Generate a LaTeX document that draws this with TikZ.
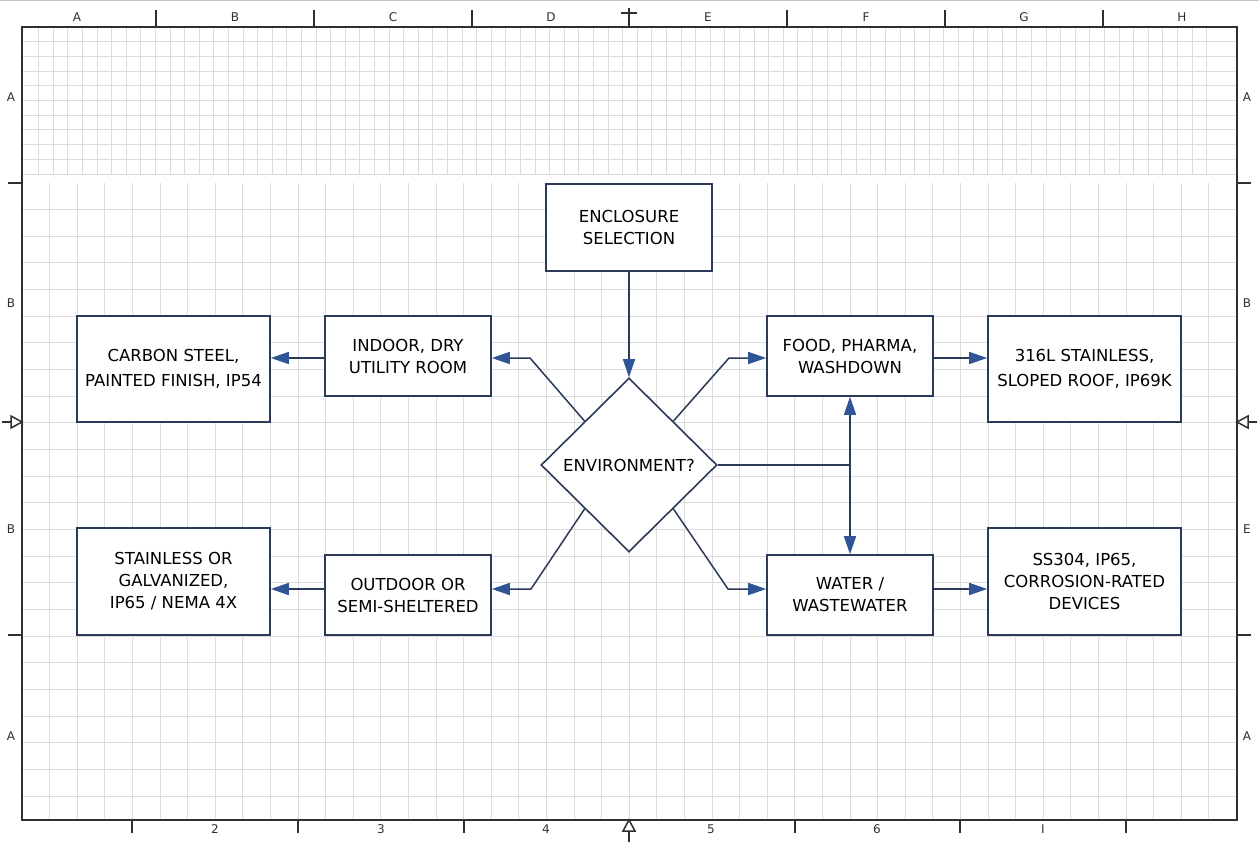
\documentclass[tikz,border=0pt]{standalone}
\usepackage{fontspec}
\setmainfont{DejaVu Sans}
\usetikzlibrary{shapes.geometric,arrows.meta}

\definecolor{boxline}{HTML}{2B3A58}
\definecolor{arrowblue}{HTML}{2F5597}
\definecolor{gridgray}{HTML}{DCDCDC}
\definecolor{framegray}{HTML}{303030}

\begin{document}
\begin{tikzpicture}[x=1pt,y=-1pt,
    box/.style ={rectangle, draw=boxline, line width=1.6pt, fill=white, align=center,
                 inner sep=0pt, text=black, font=\fontsize{16.5}{22}\selectfont},
    decision/.style ={diamond, draw=boxline, line width=1.6pt, fill=white, inner sep=0pt,
                 minimum width=176pt, minimum height=174pt, text=black,
                 font=\fontsize{16.5}{22}\selectfont},
    link/.style ={draw=boxline, line width=1.5pt,
                 -{Triangle[length=18pt,width=12pt,color=arrowblue]}},
    twoway/.style ={draw=boxline, line width=1.5pt,
                 {Triangle[length=18pt,width=12pt,color=arrowblue]}-{Triangle[length=18pt,width=12pt,color=arrowblue]}},
    ruler/.style ={text=framegray, inner sep=1pt, font=\fontsize{12}{14}\selectfont}]

   \useasboundingbox (0,0) rectangle (1259,845);
   \fill[white] (0,0) rectangle (1259,845);
   \draw[gray!45] (0,0.5) -- (1259,0.5);

   % sheet grid
   \foreach \k in {1,...,81} \draw[gridgray, line width=0.9pt] (24.1+14.6*\k,27) -- (24.1+14.6*\k,174);
   \foreach \k in {1,...,10} \draw[gridgray, line width=0.9pt] (22,27+14.7*\k) -- (1237,27+14.7*\k);
   \foreach \k in {1,...,43} \draw[gridgray, line width=0.9pt] (22+27.6*\k,183) -- (22+27.6*\k,820);
   \foreach \k in {1,...,23} \draw[gridgray, line width=0.9pt] (22,183+26.65*\k) -- (1237,183+26.65*\k);

   % frame and zone marks
   \draw[framegray, line width=2pt] (22,27) rectangle (1237,820);
   \foreach \x in {156,314,472,787,945,1103} \draw[framegray, line width=1.5pt] (\x,10) -- (\x,27);
   \foreach \x in {132,298,464,795,960,1126} \draw[framegray, line width=1.5pt] (\x,820) -- (\x,833);
   \foreach \y in {183,635} \draw[framegray, line width=1.5pt] (8,\y) -- (22,\y);
   \foreach \y in {183,635} \draw[framegray, line width=1.5pt] (1237,\y) -- (1251,\y);
   \draw[framegray, line width=1.5pt] (629,8) -- (629,27);
   \draw[framegray, line width=1.5pt] (621,13) -- (637,13);
   \draw[framegray, line width=1.5pt] (629,820) -- (623,831) -- (635,831) -- cycle;
   \draw[framegray, line width=1.5pt] (629,831) -- (629,842);
   \draw[framegray, line width=1.5pt] (22,422) -- (11,416) -- (11,428) -- cycle;
   \draw[framegray, line width=1.5pt] (2,422) -- (11,422);
   \draw[framegray, line width=1.5pt] (1237,422) -- (1248,416) -- (1248,428) -- cycle;
   \draw[framegray, line width=1.5pt] (1248,422) -- (1257,422);

   \foreach \l/\x in {A/77,B/235,C/393,D/551,E/708,F/866,G/1024,H/1182}
      \node[ruler] (top\l) at (\x,17) {\l};
   \foreach \l/\x in {2/215,3/381,4/546,5/711,6/877,I/1043}
      \node[ruler] (bot\l) at (\x,829) {\l};
   \foreach \l/\y in {A/97,B/303,B/529,A/736}
      \node[ruler] (left\y) at (11,\y) {\l};
   \foreach \l/\y in {A/97,B/303,E/529,A/736}
      \node[ruler] (right\y) at (1247,\y) {\l};

   % flow chart
   \node[box, minimum width=166pt, minimum height=87pt] (A) at (629,227.5) {ENCLOSURE\\SELECTION};
   \node[decision] (B) at (629,465) {ENVIRONMENT?};
   \node[box, minimum width=166pt, minimum height=80pt] (C) at (408,356) {INDOOR, DRY\\UTILITY ROOM};
   \node[box, minimum width=193pt, minimum height=106pt] (D) at (173.5,369) {CARBON STEEL,\\[3pt]PAINTED FINISH, IP54};
   \node[box, minimum width=166pt, minimum height=80pt] (E) at (850,356) {FOOD, PHARMA,\\WASHDOWN};
   \node[box, minimum width=193pt, minimum height=106pt] (F) at (1084.5,369) {316L STAINLESS,\\[3pt]SLOPED ROOF, IP69K};
   \node[box, minimum width=166pt, minimum height=80pt] (G) at (408,595) {OUTDOOR OR\\SEMI-SHELTERED};
   \node[box, minimum width=193pt, minimum height=107pt] (H) at (173.5,581.5) {STAINLESS OR\\GALVANIZED,\\IP65 / NEMA 4X};
   \node[box, minimum width=166pt, minimum height=80pt] (I) at (850,595) {WATER /\\WASTEWATER};
   \node[box, minimum width=193pt, minimum height=107pt] (J) at (1084.5,581.5) {SS304, IP65,\\CORROSION-RATED\\DEVICES};

   \coordinate (c1) at (530,358);
   \coordinate (c2) at (729,358);
   \coordinate (c3) at (531,589);
   \coordinate (c4) at (728,589);
   \coordinate (c5) at (E.south |- B.east);

   \draw[link] (A) to (B);
   \draw[link] (B.north west) -- (c1) -- (c1 -| C.east);
   \draw[link] (B.north east) -- (c2) -- (c2 -| E.west);
   \draw[link] (B.south west) -- (c3) -- (c3 -| G.east);
   \draw[link] (B.south east) -- (c4) -- (c4 -| I.west);
   \draw[link] (C.west |- c1) -- (D.east |- c1);
   \draw[link] (E.east |- c2) -- (F.west |- c2);
   \draw[link] (G.west |- c3) -- (H.east |- c3);
   \draw[link] (I.east |- c4) -- (J.west |- c4);
   \draw[draw=boxline, line width=1.5pt] (B.east) -- (c5);
   \draw[twoway] (E.south) -- (I.north);
\end{tikzpicture}
\end{document}
